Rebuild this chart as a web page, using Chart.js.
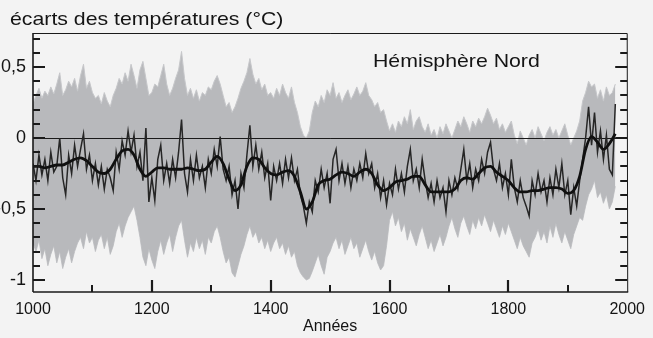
<!DOCTYPE html>
<html>
<head>
<meta charset="utf-8">
<script src="https://cdn.jsdelivr.net/npm/chart.js@4.4.1/dist/chart.umd.min.js"></script>
<style>
html, body { margin: 0; padding: 0; background: #f3f3f3; }
canvas { display: block; }
</style>
</head>
<body>
<canvas id="chart-nh" width="653" height="338"></canvas>
<script>

/* Data (5-year steps) */

var years = [
	1000, 1005, 1010, 1015, 1020, 1025, 1030, 1035, 1040, 1045,
	1050, 1055, 1060, 1065, 1070, 1075, 1080, 1085, 1090, 1095,
	1100, 1105, 1110, 1115, 1120, 1125, 1130, 1135, 1140, 1145,
	1150, 1155, 1160, 1165, 1170, 1175, 1180, 1185, 1190, 1195,
	1200, 1205, 1210, 1215, 1220, 1225, 1230, 1235, 1240, 1245,
	1250, 1255, 1260, 1265, 1270, 1275, 1280, 1285, 1290, 1295,
	1300, 1305, 1310, 1315, 1320, 1325, 1330, 1335, 1340, 1345,
	1350, 1355, 1360, 1365, 1370, 1375, 1380, 1385, 1390, 1395,
	1400, 1405, 1410, 1415, 1420, 1425, 1430, 1435, 1440, 1445,
	1450, 1455, 1460, 1465, 1470, 1475, 1480, 1485, 1490, 1495,
	1500, 1505, 1510, 1515, 1520, 1525, 1530, 1535, 1540, 1545,
	1550, 1555, 1560, 1565, 1570, 1575, 1580, 1585, 1590, 1595,
	1600, 1605, 1610, 1615, 1620, 1625, 1630, 1635, 1640, 1645,
	1650, 1655, 1660, 1665, 1670, 1675, 1680, 1685, 1690, 1695,
	1700, 1705, 1710, 1715, 1720, 1725, 1730, 1735, 1740, 1745,
	1750, 1755, 1760, 1765, 1770, 1775, 1780, 1785, 1790, 1795,
	1800, 1805, 1810, 1815, 1820, 1825, 1830, 1835, 1840, 1845,
	1850, 1855, 1860, 1865, 1870, 1875, 1880, 1885, 1890, 1895,
	1900, 1905, 1910, 1915, 1920, 1925, 1930, 1935, 1940, 1945,
	1950, 1955, 1960, 1965, 1970, 1975, 1980
];

var upperBand = [
	0.24, 0.30, 0.35, 0.28, 0.33, 0.30, 0.36, 0.31, 0.38, 0.46,
	0.30, 0.34, 0.40, 0.36, 0.42, 0.33, 0.44, 0.52, 0.35, 0.40,
	0.32, 0.28, 0.30, 0.24, 0.32, 0.26, 0.22, 0.30, 0.35, 0.42,
	0.38, 0.46, 0.40, 0.52, 0.44, 0.35, 0.48, 0.54, 0.42, 0.30,
	0.32, 0.38, 0.36, 0.44, 0.52, 0.38, 0.30, 0.35, 0.42, 0.48,
	0.61, 0.42, 0.30, 0.35, 0.28, 0.34, 0.26, 0.32, 0.30, 0.36,
	0.34, 0.40, 0.44, 0.38, 0.30, 0.22, 0.25, 0.18, 0.22, 0.28,
	0.35, 0.40, 0.46, 0.56, 0.45, 0.38, 0.42, 0.34, 0.38, 0.30,
	0.32, 0.28, 0.35, 0.30, 0.38, 0.32, 0.28, 0.36, 0.25, 0.18,
	0.08, 0.02, 0.00, 0.05, 0.18, 0.26, 0.22, 0.30, 0.25, 0.34,
	0.30, 0.39, 0.28, 0.32, 0.25, 0.30, 0.34, 0.27, 0.31, 0.36,
	0.30, 0.33, 0.39, 0.30, 0.27, 0.22, 0.25, 0.18, 0.20, 0.12,
	0.05, 0.10, 0.04, 0.12, 0.08, 0.15, 0.10, 0.20, 0.06, 0.12,
	0.15, 0.08, 0.04, 0.10, 0.02, 0.06, 0.00, 0.08, 0.03, 0.10,
	0.05, 0.00, 0.06, 0.12, 0.08, 0.15, 0.10, 0.04, 0.12, 0.08,
	0.14, 0.10, 0.15, 0.21, 0.16, 0.10, 0.14, 0.06, 0.10, 0.04,
	0.08, 0.12, 0.02, -0.04, 0.05, 0.00, -0.05, 0.02, 0.06, 0.00,
	0.08, 0.03, -0.02, 0.04, 0.08, 0.02, 0.06, 0.00, 0.05, 0.10,
	0.02, -0.05, 0.00, 0.05, 0.12, 0.26, 0.32, 0.40, 0.36, 0.38,
	0.28, 0.34, 0.26, 0.36, 0.30, 0.32, 0.38
];

var lowerBand = [
	-0.74, -0.80, -0.72, -0.85, -0.78, -0.90, -0.82, -0.76, -0.88, -0.80,
	-0.92, -0.84, -0.78, -0.88, -0.80, -0.74, -0.70, -0.78, -0.66, -0.74,
	-0.70, -0.80, -0.72, -0.68, -0.78, -0.70, -0.82, -0.76, -0.66, -0.60,
	-0.70, -0.62, -0.56, -0.52, -0.48, -0.58, -0.70, -0.84, -0.90, -0.78,
	-0.86, -0.92, -0.80, -0.72, -0.82, -0.74, -0.68, -0.80, -0.70, -0.62,
	-0.58, -0.72, -0.84, -0.74, -0.80, -0.70, -0.78, -0.72, -0.82, -0.70,
	-0.74, -0.66, -0.62, -0.70, -0.80, -0.88, -0.84, -0.95, -0.98, -0.90,
	-0.82, -0.76, -0.68, -0.62, -0.70, -0.66, -0.74, -0.70, -0.78, -0.72,
	-0.80, -0.74, -0.70, -0.78, -0.74, -0.82, -0.76, -0.84, -0.80, -0.90,
	-0.95, -0.98, -1.00, -0.99, -0.94, -0.88, -0.82, -0.90, -0.96, -0.84,
	-0.80, -0.74, -0.70, -0.78, -0.72, -0.82, -0.76, -0.70, -0.78, -0.74,
	-0.84, -0.78, -0.72, -0.80, -0.86, -0.80, -0.88, -0.93, -0.90, -0.76,
	-0.58, -0.52, -0.62, -0.56, -0.66, -0.60, -0.72, -0.64, -0.70, -0.76,
	-0.68, -0.62, -0.70, -0.78, -0.72, -0.80, -0.74, -0.68, -0.76, -0.70,
	-0.62, -0.56, -0.64, -0.70, -0.60, -0.55, -0.62, -0.68, -0.58, -0.64,
	-0.56, -0.62, -0.54, -0.60, -0.66, -0.58, -0.64, -0.70, -0.62, -0.68,
	-0.60, -0.66, -0.72, -0.78, -0.70, -0.76, -0.80, -0.84, -0.74, -0.70,
	-0.64, -0.72, -0.66, -0.74, -0.62, -0.70, -0.60, -0.68, -0.74, -0.66,
	-0.72, -0.78, -0.68, -0.62, -0.56, -0.58, -0.48, -0.40, -0.36, -0.30,
	-0.42, -0.38, -0.46, -0.40, -0.50, -0.45, -0.34
];

var annual = [
	-0.18, -0.30, -0.12, -0.26, -0.15, -0.30, -0.10, -0.24, -0.20, 0.00,
	-0.28, -0.40, -0.12, -0.25, -0.05, -0.20, -0.08, 0.03, -0.22, -0.12,
	-0.30, -0.18, -0.33, -0.20, -0.36, -0.22, -0.28, -0.37, -0.10, -0.22,
	-0.02, -0.12, 0.05, -0.10, 0.02, -0.20, -0.10, -0.30, 0.07, -0.45,
	-0.28, -0.44, -0.15, -0.05, -0.30, -0.18, -0.32, -0.15, -0.28, -0.10,
	0.13, -0.25, -0.38, -0.15, -0.30, -0.12, -0.28, -0.20, -0.35, -0.15,
	-0.25, -0.08, -0.20, 0.01, -0.22, -0.30, -0.20, -0.40, -0.30, -0.50,
	-0.25, -0.35, -0.12, 0.09, -0.20, -0.05, -0.22, -0.10, -0.28, -0.18,
	-0.44, -0.20, -0.30, -0.18, -0.32, -0.15, -0.28, -0.14, -0.30, -0.22,
	-0.40, -0.48, -0.60, -0.45, -0.52, -0.30, -0.38, -0.22, -0.35, -0.25,
	-0.46, -0.15, -0.08, -0.30, -0.18, -0.32, -0.20, -0.35, -0.22, -0.30,
	-0.18, -0.28, -0.11, -0.25, -0.18, -0.35, -0.25, -0.42, -0.30, -0.47,
	-0.32, -0.40, -0.22, -0.36, -0.25, -0.38, -0.20, -0.08, -0.30, -0.22,
	-0.35, -0.15, -0.30, -0.42, -0.32, -0.45, -0.30, -0.42, -0.35, -0.52,
	-0.30, -0.40, -0.28, -0.36, -0.22, -0.08, -0.30, -0.18, -0.35, -0.22,
	-0.30, -0.15, -0.25, -0.10, -0.03, -0.22, -0.30, -0.18, -0.35, -0.25,
	-0.40, -0.15, -0.35, -0.45, -0.30, -0.42, -0.48, -0.55, -0.30, -0.40,
	-0.25, -0.38, -0.30, -0.45, -0.28, -0.40, -0.22, -0.35, -0.18, -0.40,
	-0.30, -0.54, -0.35, -0.48, -0.30, -0.15, 0.00, 0.22, -0.05, 0.18,
	-0.10, 0.05, -0.15, 0.02, -0.22, -0.26, 0.24
];

/* Smoothed curve, 10-year steps */

var smoothYears = [
	1000, 1010, 1020, 1030, 1040, 1050, 1060, 1070, 1080, 1090,
	1100, 1110, 1120, 1130, 1140, 1150, 1160, 1170, 1180, 1190,
	1200, 1210, 1220, 1230, 1240, 1250, 1260, 1270, 1280, 1290,
	1300, 1310, 1320, 1330, 1340, 1350, 1360, 1370, 1380, 1390,
	1400, 1410, 1420, 1430, 1440, 1450, 1460, 1470, 1480, 1490,
	1500, 1510, 1520, 1530, 1540, 1550, 1560, 1570, 1580, 1590,
	1600, 1610, 1620, 1630, 1640, 1650, 1660, 1670, 1680, 1690,
	1700, 1710, 1720, 1730, 1740, 1750, 1760, 1770, 1780, 1790,
	1800, 1810, 1820, 1830, 1840, 1850, 1860, 1870, 1880, 1890,
	1900, 1910, 1920, 1930, 1940, 1950, 1960, 1970, 1980
];

var smoothed = [
	-0.20, -0.20, -0.21, -0.20, -0.19, -0.19, -0.17, -0.15, -0.14, -0.16,
	-0.20, -0.24, -0.25, -0.22, -0.15, -0.09, -0.08, -0.12, -0.22, -0.27,
	-0.24, -0.21, -0.21, -0.22, -0.22, -0.22, -0.21, -0.22, -0.23, -0.22,
	-0.17, -0.13, -0.18, -0.29, -0.37, -0.33, -0.20, -0.14, -0.15, -0.21,
	-0.25, -0.26, -0.24, -0.23, -0.27, -0.38, -0.50, -0.45, -0.33, -0.30,
	-0.29, -0.26, -0.24, -0.25, -0.27, -0.24, -0.22, -0.25, -0.33, -0.37,
	-0.35, -0.31, -0.30, -0.29, -0.27, -0.27, -0.33, -0.38, -0.38, -0.38,
	-0.38, -0.36, -0.30, -0.28, -0.29, -0.25, -0.21, -0.20, -0.24, -0.27,
	-0.30, -0.35, -0.38, -0.38, -0.37, -0.37, -0.36, -0.35, -0.35, -0.36,
	-0.39, -0.37, -0.27, -0.08, 0.01, -0.03, -0.08, -0.04, 0.03
];

/* Axes */

var xLabelYears = [ 1000, 1200, 1400, 1600, 1800, 2000 ];
var xMinorYears = [ 1100, 1300, 1500, 1700, 1900 ];
var yMajorValues = [ -1, -0.5, 0, 0.5 ];
var yTickLabels = [ '-1', '-0,5', '0', '0,5' ];
var yMinorValues = [ -0.9, -0.8, -0.7, -0.6, -0.4, -0.3, -0.2, -0.1, 0.1, 0.2, 0.3, 0.4, 0.6, 0.7 ];

function pairs( xs, ys ) {
	return xs.map(function( x, i ){ return { x: x, y: ys[i] }; });
}

var FONT = "'Liberation Sans', Arial, sans-serif";

/* Decorations: background, frame, inward ticks, zero line, texts */

var decor = {
	id: 'decor',
	beforeDraw: function( chart ) {
		var c = chart.ctx;
		c.save();
		c.fillStyle = '#f3f3f3';
		c.fillRect( 0, 0, chart.width, chart.height );
		c.restore();
	},
	afterDatasetDraw: function( chart, args ) {
		if ( args.index !== 2 ) return;
		var c = chart.ctx, a = chart.chartArea;
		var y0 = Math.round( chart.scales.y.getPixelForValue( 0 ) ) + 0.5;
		c.save();
		c.strokeStyle = '#1a1a1a';
		c.lineWidth = 1;
		c.beginPath(); c.moveTo( a.left, y0 ); c.lineTo( a.right, y0 ); c.stroke();
		c.restore();
	},
	afterDraw: function( chart ) {
		var c = chart.ctx, a = chart.chartArea;
		var sx = chart.scales.x, sy = chart.scales.y;
		c.save();
		c.strokeStyle = '#1a1a1a';

		// frame
		c.lineWidth = 1;
		c.beginPath(); c.moveTo( a.left, a.top + 0.5 ); c.lineTo( a.right, a.top + 0.5 ); c.lineTo( a.right + 0.5, a.bottom ); c.stroke();
		c.lineWidth = 1.6;
		c.beginPath(); c.moveTo( a.left, a.top ); c.lineTo( a.left, a.bottom ); c.stroke();
		c.lineWidth = 1.5;
		c.beginPath(); c.moveTo( a.left, a.bottom ); c.lineTo( a.right + 1, a.bottom ); c.stroke();

		// y ticks, both sides, pointing in
		function yTick( v, len, w ) {
			var p = Math.round( sy.getPixelForValue( v ) );
			c.lineWidth = w;
			c.beginPath();
			c.moveTo( a.left, p ); c.lineTo( a.left + len, p );
			c.moveTo( a.right, p ); c.lineTo( a.right - len, p );
			c.stroke();
		}
		yMajorValues.forEach(function( v ){ yTick( v, 12, 2.2 ); });
		yMinorValues.forEach(function( v ){ yTick( v, 7, 1.8 ); });

		// x ticks
		function xTick( v, len, w ) {
			var p = Math.round( sx.getPixelForValue( v ) );
			c.lineWidth = w;
			c.beginPath(); c.moveTo( p, a.bottom ); c.lineTo( p, a.bottom - len ); c.stroke();
		}
		xLabelYears.slice( 1, -1 ).forEach(function( v ){ xTick( v, 12, 2.2 ); });
		xMinorYears.forEach(function( v ){ xTick( v, 7, 2 ); });

		// texts
		c.fillStyle = '#141414';
		c.textBaseline = 'alphabetic';
		c.textAlign = 'left';
		c.font = '19px ' + FONT;
		c.save(); c.translate( 10, 25 ); c.scale( 1.12, 1 ); c.fillText( 'écarts des températures (°C)', 0, 0 ); c.restore();
		c.save(); c.translate( 373, 67 ); c.scale( 1.12, 1 ); c.fillText( 'Hémisphère Nord', 0, 0 ); c.restore();
		c.restore();
	}
};

var ctxnh = document.getElementById("chart-nh").getContext('2d');
var myChart = new Chart(ctxnh, {
	type: 'line',
	data: {
		datasets: [{
			label: 'moyenne lissée',
			data: pairs( smoothYears, smoothed ),
			borderColor: '#101010',
			borderWidth: 2.8,
			pointRadius: 0,
			cubicInterpolationMode: 'monotone',
			fill: false
		}, {
			label: 'valeurs annuelles',
			data: pairs( years, annual ),
			borderColor: '#262626',
			borderWidth: 1.5,
			pointRadius: 0,
			tension: 0,
			fill: false
		}, {
			label: 'incertitude haut',
			data: pairs( years, upperBand ),
			borderColor: '#c6c7ca',
			borderWidth: 1,
			backgroundColor: '#b8b9bc',
			pointRadius: 0,
			tension: 0,
			fill: '+1'
		}, {
			label: 'incertitude bas',
			data: pairs( years, lowerBand ),
			borderColor: '#c6c7ca',
			borderWidth: 1,
			pointRadius: 0,
			tension: 0,
			fill: false
		}]
	},
	options: {
		responsive: false,
		animation: false,
		devicePixelRatio: 1,
		layout: { padding: { top: 33, right: 17, left: 0, bottom: 0 } },
		plugins: { legend: { display: false }, tooltip: { enabled: false } },
		scales: {
			x: {
				type: 'linear', min: 1000, max: 2000,
				afterFit: function( s ){ s.height = 46; },
				grid: { display: false, drawTicks: false },
				border: { display: false },
				ticks: {
					stepSize: 100, padding: 8, maxRotation: 0, autoSkip: false,
					color: '#141414', font: { family: FONT, size: 16 },
					callback: function( v ){ return xLabelYears.indexOf( v ) >= 0 ? String( v ) : ''; }
				},
				title: { display: true, text: 'Années', color: '#141414', font: { family: FONT, size: 16 }, padding: { top: 0, bottom: 2 } }
			},
			y: {
				min: -1.085, max: 0.74,
				afterFit: function( s ){ s.width = 33; },
				grid: { display: false, drawTicks: false },
				border: { display: false },
				ticks: {
					stepSize: 0.5, padding: 7, autoSkip: false, includeBounds: false,
					color: '#141414', font: { family: FONT, size: 18 },
					callback: function( v ){
						var i = yMajorValues.indexOf( Math.round( v * 10 ) / 10 );
						if ( Math.abs( v * 10 - Math.round( v * 10 ) ) > 0.001 ) return '';
						return i >= 0 ? yTickLabels[i] : '';
					}
				}
			}
		}
	},
	plugins: [ decor ]
});
</script>
</body>
</html>
